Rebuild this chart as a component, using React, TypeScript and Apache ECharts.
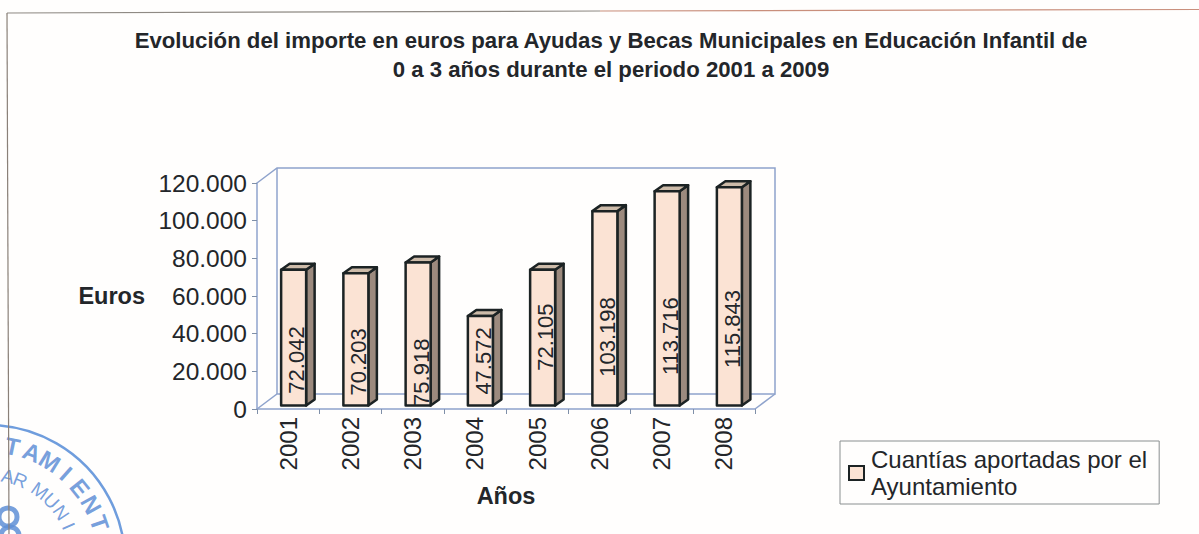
import React, { useEffect, useRef } from "react";
import * as echarts from "echarts";

const years = ["2001", "2002", "2003", "2004", "2005", "2006", "2007", "2008"];
const amounts = [72042, 70203, 75918, 47572, 72105, 103198, 113716, 115843];
const amountLabels = ["72.042", "70.203", "75.918", "47.572", "72.105", "103.198", "113.716", "115.843"];
// Value level at which each hand-placed label is centred in the reference
const labelLevels = [26000, 25000, 19500, 25500, 38200, 38200, 38700, 42500];
const yTicks = [0, 20000, 40000, 60000, 80000, 100000, 120000];
const titleText = "Evolución del importe en euros para Ayudas y Becas Municipales en Educación Infantil de\n0 a 3 años durante el periodo 2001 a 2009";
const seriesName = "Cuantías aportadas por el\nAyuntamiento";
const sealOuter = "TAMIENT";
const sealInnerA = "AR";
const sealInnerB = "MUNI";

const FONT = "'Liberation Sans', Arial, sans-serif";
const INK = "#23262a";
const WALL = "#8fa3cc";

function sealLetters(text: string, radius: number, startDeg: number, stepDeg: number, size: number, weight: string) {
  const cx = -12, cy = 562;
  return text.split("").map((ch, i) => {
    const deg = startDeg + i * stepDeg;
    const a = (deg * Math.PI) / 180;
    return {
      type: "text",
      x: cx + radius * Math.sin(a),
      y: cy - radius * Math.cos(a),
      rotation: -a,
      silent: true,
      z: 0,
      style: { text: ch, fill: "#5f8fd6", font: `${weight} ${size}px ${FONT}`, align: "center", verticalAlign: "middle", opacity: 0.85 },
    };
  });
}

export default function App() {
  const ref = useRef<HTMLDivElement>(null);
  useEffect(() => {
    document.body.style.margin = "0";
    const chart = echarts.init(ref.current!, undefined, { renderer: "svg" });
    const DX = 5.5, DY = -3.5, SD = 8.5, SH = 6;
    chart.setOption({
      animation: false,
      backgroundColor: "#fffefd",
      title: {
        text: titleText,
        left: 606,
        top: 21,
        textAlign: "center",
        textStyle: { fontFamily: FONT, fontSize: 22.2, fontWeight: "bold", color: INK, lineHeight: 29 },
      },
      grid: { left: 257, top: 183, width: 498, height: 226, containLabel: false },
      legend: {
        left: 840,
        top: 441,
        orient: "vertical",
        padding: [5, 12, 4, 8],
        borderColor: "#8a8f90",
        borderWidth: 1,
        itemWidth: 15,
        itemHeight: 14,
        itemGap: 0,
        data: [{ name: seriesName, icon: "rect" }],
        textStyle: { fontFamily: FONT, fontSize: 24, color: INK, lineHeight: 27, padding: [0, 0, 0, 2] },
      },
      xAxis: {
        type: "category",
        data: years,
        name: "Años",
        nameLocation: "middle",
        nameGap: 75,
        nameTextStyle: { fontFamily: FONT, fontSize: 23.5, fontWeight: "bold", color: INK },
        axisLine: { lineStyle: { color: WALL, width: 1.5 } },
        axisTick: { show: true, length: 5, lineStyle: { color: "#7f8fa8" } },
        axisLabel: { rotate: 90, fontFamily: FONT, fontSize: 24, color: INK, margin: 8, interval: 0 },
      },
      yAxis: {
        type: "value",
        min: 0,
        max: 120000,
        interval: 20000,
        name: "Euros",
        nameLocation: "middle",
        nameGap: 112,
        nameRotate: 0,
        nameTextStyle: { fontFamily: FONT, fontSize: 23.5, fontWeight: "bold", color: INK },
        axisLine: { show: true, lineStyle: { color: WALL, width: 1.5 } },
        axisTick: { show: true, length: 5, lineStyle: { color: "#7f8fa8" } },
        splitLine: { show: false },
        axisLabel: {
          fontFamily: FONT,
          fontSize: 24.5,
          color: INK,
          margin: 10,
          formatter: (v: number) => (yTicks.includes(v) ? (v === 0 ? "0" : `${v / 1000}.000`) : ""),
        },
      },
      series: [
        {
          type: "custom",
          name: seriesName,
          coordinateSystem: "cartesian2d",
          data: amounts.map((v, i) => [i, v, labelLevels[i]]),
          encode: { x: 0, y: 1 },
          itemStyle: { color: "#fbe3d4", borderColor: "#1c2324", borderWidth: 2.5 },
          clip: false,
          z: 5,
          renderItem: (params: any, api: any) => {
            const i = api.value(0);
            const base = api.coord([i, 0]);
            const top = api.coord([i, api.value(1)]);
            const mid = api.coord([i, api.value(2)]);
            const hw = 12.5;
            const l = base[0] - hw + DX, r = base[0] + hw + DX;
            const b = base[1] + DY, t = top[1] + DY;
            const line = { stroke: "#1c2324", lineWidth: 2.5, lineJoin: "round" };
            return {
              type: "group",
              children: [
                { type: "polygon", shape: { points: [[r, t], [r + SD, t - SH], [r + SD, b - SH], [r, b]] }, style: { fill: "#9c8a7e", ...line } },
                { type: "polygon", shape: { points: [[l, t], [l + SD, t - SH], [r + SD, t - SH], [r, t]] }, style: { fill: "#cdbba9", ...line } },
                { type: "rect", shape: { x: l, y: t, width: r - l, height: b - t }, style: { fill: "#fbe3d4", ...line } },
                {
                  type: "text",
                  x: (l + r) / 2 + 3,
                  y: mid[1],
                  rotation: Math.PI / 2,
                  style: { text: amountLabels[i], fill: INK, font: `22px ${FONT}`, align: "center", verticalAlign: "middle" },
                },
              ],
            };
          },
        },
      ],
      graphic: {
        elements: [
          { type: "polyline", silent: true, z: 1, shape: { points: [[257, 183], [277, 168], [775, 168], [775, 394], [277, 394], [257, 409]] }, style: { fill: "none", stroke: WALL, lineWidth: 1.5 } },
          { type: "line", silent: true, z: 1, shape: { x1: 277, y1: 168, x2: 277, y2: 394 }, style: { stroke: WALL, lineWidth: 1.5 } },
          { type: "line", silent: true, z: 1, shape: { x1: 755, y1: 409, x2: 775, y2: 394 }, style: { stroke: WALL, lineWidth: 1.5 } },
          { type: "circle", silent: true, z: 0, shape: { cx: -12, cy: 562, r: 137 }, style: { fill: "none", stroke: "#6f9ddd", lineWidth: 2.5 } },
          { type: "circle", silent: true, z: 0, shape: { cx: 8, cy: 517, r: 9 }, style: { fill: "none", stroke: "#5f8fd6", lineWidth: 5, opacity: 0.85 } },
          { type: "circle", silent: true, z: 0, shape: { cx: 10, cy: 536, r: 9 }, style: { fill: "none", stroke: "#5f8fd6", lineWidth: 5, opacity: 0.85 } },
          ...sealLetters(sealOuter, 118, 12, 9.8, 24, "bold"),
          ...sealLetters(sealInnerA, 88, 13, 8.5, 19, "normal"),
          ...sealLetters(sealInnerB, 88, 36, 10, 19, "normal"),
          { type: "line", silent: true, z: 2, shape: { x1: 7, y1: 13, x2: 600, y2: 11 }, style: { stroke: "#8f8a84", lineWidth: 1.2 } },
          { type: "line", silent: true, z: 2, shape: { x1: 600, y1: 11, x2: 1199, y2: 9.5 }, style: { stroke: "#c98f7c", lineWidth: 1.2 } },
          { type: "line", silent: true, z: 2, shape: { x1: 7, y1: 13, x2: 9, y2: 534 }, style: { stroke: "#8a8078", lineWidth: 1.2 } },
        ],
      },
    });
    return () => chart.dispose();
  }, []);
  return <div ref={ref} style={{ width: 1199, height: 534 }} />;
}
